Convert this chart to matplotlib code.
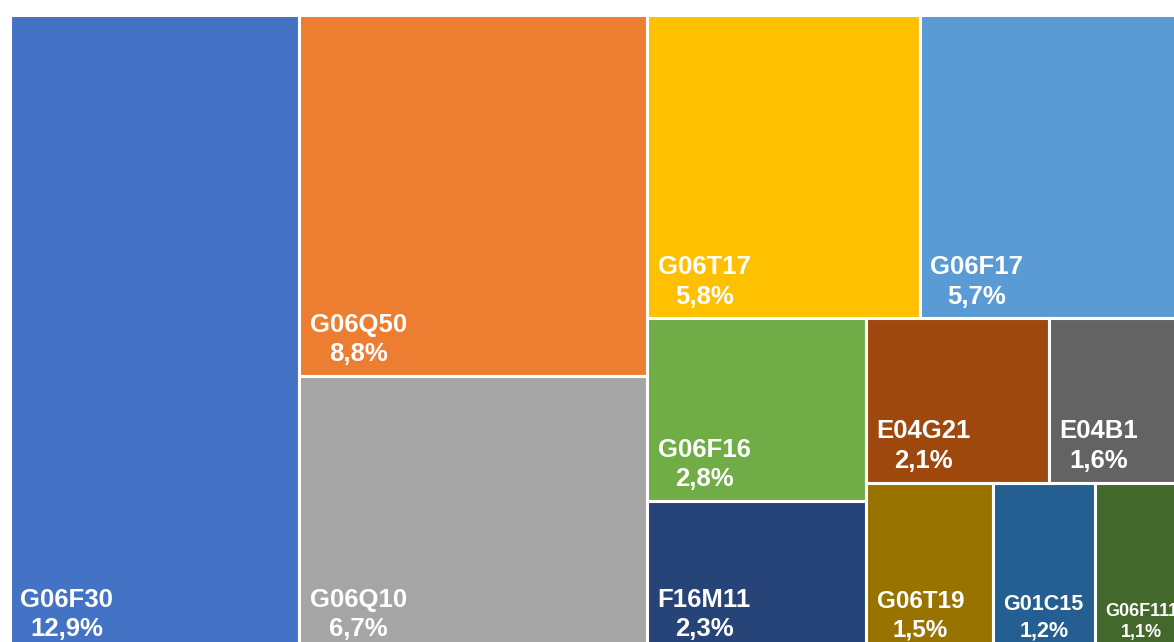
import matplotlib
matplotlib.use('Agg')
import matplotlib.pyplot as plt
from matplotlib.patches import Rectangle

# treemap data (share of patents, %)
codes = ['G06F30', 'G06Q50', 'G06Q10', 'G06T17', 'G06F17', 'G06F16',
         'F16M11', 'E04G21', 'E04B1', 'G06T19', 'G01C15', 'G06F111']
shares = [12.9, 8.8, 6.7, 5.8, 5.7, 2.8, 2.3, 2.1, 1.6, 1.5, 1.2, 1.1]

colors = ['#4472C4', '#ED7D31', '#A5A5A5', '#FFC000', '#5B9BD5', '#70AD47',
          '#264478', '#9E480E', '#636363', '#997300', '#255E91', '#43682B']
font_sizes = [18.5, 18.5, 18.5, 18.5, 18.5, 18.5, 18.5, 18.5, 18.5, 17.5, 15.5, 13]

# how the cells are nested: 'h' = side by side, 'v' = stacked
layout = ('h', [0, ('v', [1, 2]),
                ('v', [('h', [3, 4]),
                       ('h', [('v', [5, 6]),
                              ('v', [('h', [7, 8]), ('h', [9, 10, 11])])])])])


def total(node):
    if isinstance(node, int):
        return shares[node]
    return sum(total(c) for c in node[1])


def place(node, x, y, w, h, out):
    # y is the top edge, rows go downward
    if isinstance(node, int):
        out[node] = (x, y, w, h)
        return
    kind, children = node
    s = total(node)
    for c in children:
        f = total(c) / s
        if kind == 'h':
            place(c, x, y, w * f, h, out)
            x += w * f
        else:
            place(c, x, y, w, h * f, out)
            y += h * f


plt.rcParams['font.family'] = ['Liberation Sans', 'DejaVu Sans']

fig = plt.figure(figsize=(11.74, 6.42), dpi=100)
W, H = 1174.0, 642.0
# the chart is cropped on the right and at the bottom
ax = fig.add_axes([10 / W, (H - 651) / H, 1178 / W, 636 / H])
ax.set_xlim(0, total(layout))
ax.set_ylim(1, 0)
ax.axis('off')

rects = {}
place(layout, 0, 0, total(layout), 1, rects)

for i, code in enumerate(codes):
    x, y, w, h = rects[i]
    ax.add_patch(Rectangle((x, y), w, h, facecolor=colors[i],
                           edgecolor='white', linewidth=2.2, clip_on=False))
    label = code + '\n' + ('%.1f%%' % shares[i]).replace('.', ',')
    ax.annotate(label, xy=(x, y + h), xytext=(7.5, 7), textcoords='offset points',
                ha='left', va='bottom', multialignment='center',
                color='white', fontweight='bold', fontsize=font_sizes[i],
                linespacing=1.3, annotation_clip=False)

fig.savefig('out.png', dpi=100)
